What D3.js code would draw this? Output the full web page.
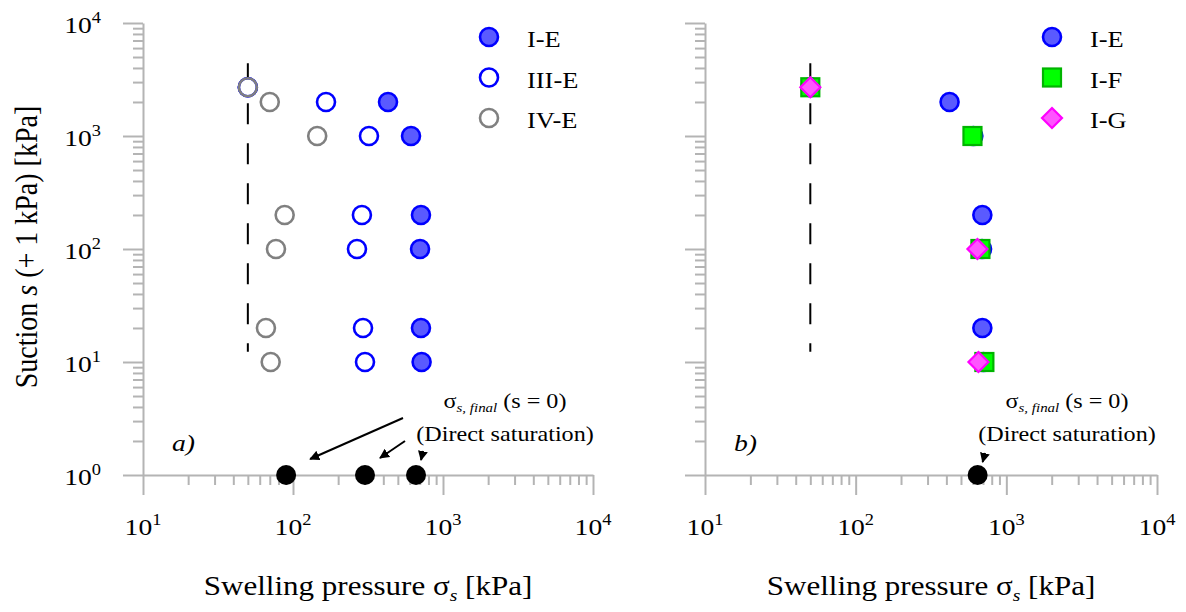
<!DOCTYPE html>
<html>
<head>
<meta charset="utf-8">
<script src="https://cdn.jsdelivr.net/npm/d3@7"></script>
<style>
  body { margin: 0; background: #fff; }
  svg text { font-family: "Liberation Serif", "Times New Roman", serif; fill: #000; }
</style>
</head>
<body>
<div id="graphic"></div>
<script>
// ---- data (swelling pressure kPa, suction kPa) ----
const ieSwell = [50, 430, 612, 713, 703, 713, 720];
const ieSuction = [2700, 2000, 1000, 200, 100, 20, 10];

const iiieSwell = [50, 166, 321, 288, 267, 293, 302];
const iiieSuction = [2700, 2000, 1000, 200, 100, 20, 10];

const iveSwell = [50, 70, 145, 88, 77, 66, 71];
const iveSuction = [2700, 2000, 1000, 200, 100, 20, 10];

const finalSwellA = [90, 302, 661];
const finalSwellB = [645];

// panel b
const ieSwellB = [50, 420, 604, 693, 690, 693, 705];
const ieSuctionB = [2700, 2000, 1000, 200, 100, 20, 10];
const ifSwell = [50, 596, 673, 715];
const ifSuction = [2700, 1000, 100, 10];
const igSwell = [50, 643, 653];
const igSuction = [2700, 100, 10];

const dashedSwell = 50;
const dashedSuction = [12.3, 4400];

const xTicks = [10, 100, 1000, 10000];
const yTicks = [1, 10, 100, 1000, 10000];

const legendA = ["I-E", "III-E", "IV-E"];
const legendB = ["I-E", "I-F", "I-G"];

const SX = 1.15; // horizontal stretch of the original figure
const axisColor = "#b4b4b4";

const chart = {
  width: 1186,
  height: 612,
  top: 23,
  bottom: 475,
  panels: [
    { left: 143, right: 593, label: "a)" },
    { left: 705, right: 1157, label: "b)" }
  ],
  minorTicks(lo, hi){
    const out = [];
    for (let d = lo; d < hi; d *= 10) {
      for (let k = 1; k < 10; k++) out.push(d * k);
    }
    out.push(hi);
    return out;
  },
  stretchText(g, x, y, anchor){
    return g.append("text")
      .attr("transform", `translate(${x},${y}) scale(${SX},1)`)
      .attr("text-anchor", anchor || "start");
  },
  drawPlot(){
    this.svg = d3.select("#graphic").append("svg")
      .attr("width", this.width)
      .attr("height", this.height);
    const defs = this.svg.append("defs");
    defs.append("marker")
      .attr("id", "arrow")
      .attr("viewBox", "0 0 10 10")
      .attr("refX", 9).attr("refY", 5)
      .attr("markerWidth", 10).attr("markerHeight", 10)
      .attr("markerUnits", "userSpaceOnUse")
      .attr("orient", "auto")
      .append("path")
      .attr("d", "M0,0 L10,5 L0,10 Z")
      .attr("fill", "#000");
    this.yScale = d3.scaleLog().domain([1, 1e4]).range([this.bottom, this.top]);
  },
  drawAxes(p, i){
    const that = this;
    const g = this.svg.append("g");
    p.xScale = d3.scaleLog().domain([10, 1e4]).range([p.left, p.right]);
    const xt = this.minorTicks(10, 1e4);
    const yt = this.minorTicks(1, 1e4);

    const xAxis = d3.axisBottom(p.xScale).tickValues(xt).tickFormat("").tickSizeOuter(0);
    const yAxis = d3.axisLeft(this.yScale).tickValues(yt).tickFormat("").tickSizeOuter(0);

    const gx = g.append("g").attr("transform", `translate(0,${this.bottom})`).call(xAxis);
    const gy = g.append("g").attr("transform", `translate(${p.left},0)`).call(yAxis);
    [gx, gy].forEach(a => {
      a.select(".domain").attr("stroke", axisColor).attr("stroke-width", 2);
      a.selectAll(".tick line").attr("stroke", axisColor).attr("stroke-width", 2);
    });
    gx.selectAll(".tick line").attr("y2", d => xTicks.includes(d) ? 20 : 10);
    gy.selectAll(".tick line").attr("x2", d => yTicks.includes(d) ? -20 : -10);

    // x tick labels
    xTicks.forEach(v => {
      const t = that.stretchText(g, p.xScale(v), 535, "middle").style("font-size", "24px");
      t.append("tspan").text("10");
      t.append("tspan").attr("dy", -10).style("font-size", "16px").text(Math.round(Math.log10(v)));
    });
    // y tick labels only on panel a
    if (i === 0) {
      yTicks.forEach(v => {
        const t = that.stretchText(g, 101, that.yScale(v) + 10, "end").style("font-size", "24px");
        t.append("tspan").text("10");
        t.append("tspan").attr("dy", -10).style("font-size", "16px").text(Math.round(Math.log10(v)));
      });
    }

    // x axis title
    const xl = this.stretchText(g, (p.left + p.right) / 2, 595, "middle").style("font-size", "27px");
    xl.append("tspan").text("Swelling pressure σ");
    xl.append("tspan").attr("dy", 6).style("font-size", "17px").style("font-style", "italic").text("s");
    xl.append("tspan").attr("dy", -6).text(" [kPa]");

    // panel label
    this.stretchText(g, p.left + 29, 451, "start")
      .style("font-size", "24px").style("font-style", "italic").text(p.label);
  },
  drawYTitle(){
    const t = this.svg.append("text")
      .attr("transform", `translate(37,247) rotate(-90) scale(1,${SX})`)
      .attr("text-anchor", "middle")
      .style("font-size", "28px");
    t.append("tspan").text("Suction ");
    t.append("tspan").style("font-style", "italic").text("s");
    t.append("tspan").text(" (+ 1 kPa) [kPa]");
  },
  dashed(p){
    this.svg.append("line")
      .attr("x1", p.xScale(dashedSwell)).attr("x2", p.xScale(dashedSwell))
      .attr("y1", this.yScale(dashedSuction[1])).attr("y2", this.yScale(dashedSuction[0]))
      .attr("stroke", "#000").attr("stroke-width", 2)
      .attr("stroke-dasharray", "21,19");
  },
  circles(p, xs, ys, fill, stroke){
    const that = this;
    this.svg.append("g").selectAll("circle")
      .data(xs.map((x, k) => [x, ys[k]]))
      .enter().append("circle")
      .attr("cx", d => p.xScale(d[0]))
      .attr("cy", d => that.yScale(d[1]))
      .attr("r", 9)
      .attr("fill", fill)
      .attr("stroke", stroke)
      .attr("stroke-width", 2.6);
  },
  squares(p, xs, ys){
    const that = this;
    this.svg.append("g").selectAll("rect")
      .data(xs.map((x, k) => [x, ys[k]]))
      .enter().append("rect")
      .attr("x", d => p.xScale(d[0]) - 9)
      .attr("y", d => that.yScale(d[1]) - 9)
      .attr("width", 18).attr("height", 18)
      .attr("fill", "#00ff00")
      .attr("stroke", "#00b400")
      .attr("stroke-width", 2.2);
  },
  diamonds(p, xs, ys){
    const that = this;
    this.svg.append("g").selectAll("path")
      .data(xs.map((x, k) => [x, ys[k]]))
      .enter().append("path")
      .attr("transform", d => `translate(${p.xScale(d[0])},${that.yScale(d[1])})`)
      .attr("d", "M0,-10 L10,0 L0,10 L-10,0 Z")
      .attr("fill", "#ff55ff")
      .attr("stroke", "#ff00ff")
      .attr("stroke-width", 2.2);
  },
  finals(p, xs){
    const that = this;
    this.svg.append("g").selectAll("circle")
      .data(xs)
      .enter().append("circle")
      .attr("cx", d => p.xScale(d))
      .attr("cy", that.yScale(1))
      .attr("r", 10)
      .attr("fill", "#000");
  },
  arrow(x1, y1, x2, y2){
    this.svg.append("line")
      .attr("x1", x1).attr("y1", y1).attr("x2", x2).attr("y2", y2)
      .attr("stroke", "#000").attr("stroke-width", 2)
      .attr("marker-end", "url(#arrow)");
  },
  annotation(cx){
    const g = this.svg.append("g");
    const t1 = this.stretchText(g, cx, 408, "middle").style("font-size", "21px");
    t1.append("tspan").text("σ");
    t1.append("tspan").attr("dy", 4).style("font-size", "13px").style("font-style", "italic").text("s, final");
    t1.append("tspan").attr("dy", -4).text(" (s = 0)");
    this.stretchText(g, cx, 441, "middle").style("font-size", "21px").text("(Direct saturation)");
  },
  legend(x, names, kinds){
    const that = this;
    names.forEach((n, k) => {
      const y = 37 + k * 40.5;
      const kind = kinds[k];
      const g = that.svg.append("g");
      if (kind === "square") {
        g.append("rect").attr("x", x - 9).attr("y", y - 9).attr("width", 18).attr("height", 18)
          .attr("fill", "#00ff00").attr("stroke", "#00b400").attr("stroke-width", 2.2);
      } else if (kind === "diamond") {
        g.append("path").attr("transform", `translate(${x},${y})`)
          .attr("d", "M0,-10 L10,0 L0,10 L-10,0 Z")
          .attr("fill", "#ff55ff").attr("stroke", "#ff00ff").attr("stroke-width", 2.2);
      } else {
        g.append("circle").attr("cx", x).attr("cy", y).attr("r", 9)
          .attr("fill", kind[0]).attr("stroke", kind[1]).attr("stroke-width", 2.6);
      }
      that.stretchText(g, x + 38, y + 10, "start").style("font-size", "23px").text(n);
    });
  },
  draw(){
    this.drawPlot();
    const [a, b] = this.panels;
    this.drawAxes(a, 0);
    this.drawAxes(b, 1);
    this.drawYTitle();

    // panel a
    this.dashed(a);
    this.circles(a, ieSwell, ieSuction, "#5a5aff", "#0000ff");
    this.circles(a, iiieSwell, iiieSuction, "#ffffff", "#0000ff");
    this.circles(a, iveSwell, iveSuction, "none", "#808080");
    this.finals(a, finalSwellA);
    this.annotation(505);
    const fy = this.yScale(1);
    this.arrow(403, 418, a.xScale(finalSwellA[0]) + 24, fy - 16);
    this.arrow(405, 441, a.xScale(finalSwellA[1]) + 15, fy - 17);
    this.arrow(423, 451, a.xScale(finalSwellA[2]) + 5, fy - 15);
    this.legend(489, legendA, [["#5a5aff", "#0000ff"], ["#ffffff", "#0000ff"], ["#ffffff", "#808080"]]);

    // panel b
    this.dashed(b);
    this.circles(b, ieSwellB, ieSuctionB, "#5a5aff", "#0000ff");
    this.squares(b, ifSwell, ifSuction);
    this.diamonds(b, igSwell, igSuction);
    this.finals(b, finalSwellB);
    this.annotation(1067);
    this.arrow(985, 453, b.xScale(finalSwellB[0]) + 5, fy - 13);
    this.legend(1052, legendB, [["#5a5aff", "#0000ff"], "square", "diamond"]);
  }
};

chart.draw();
</script>
</body>
</html>
